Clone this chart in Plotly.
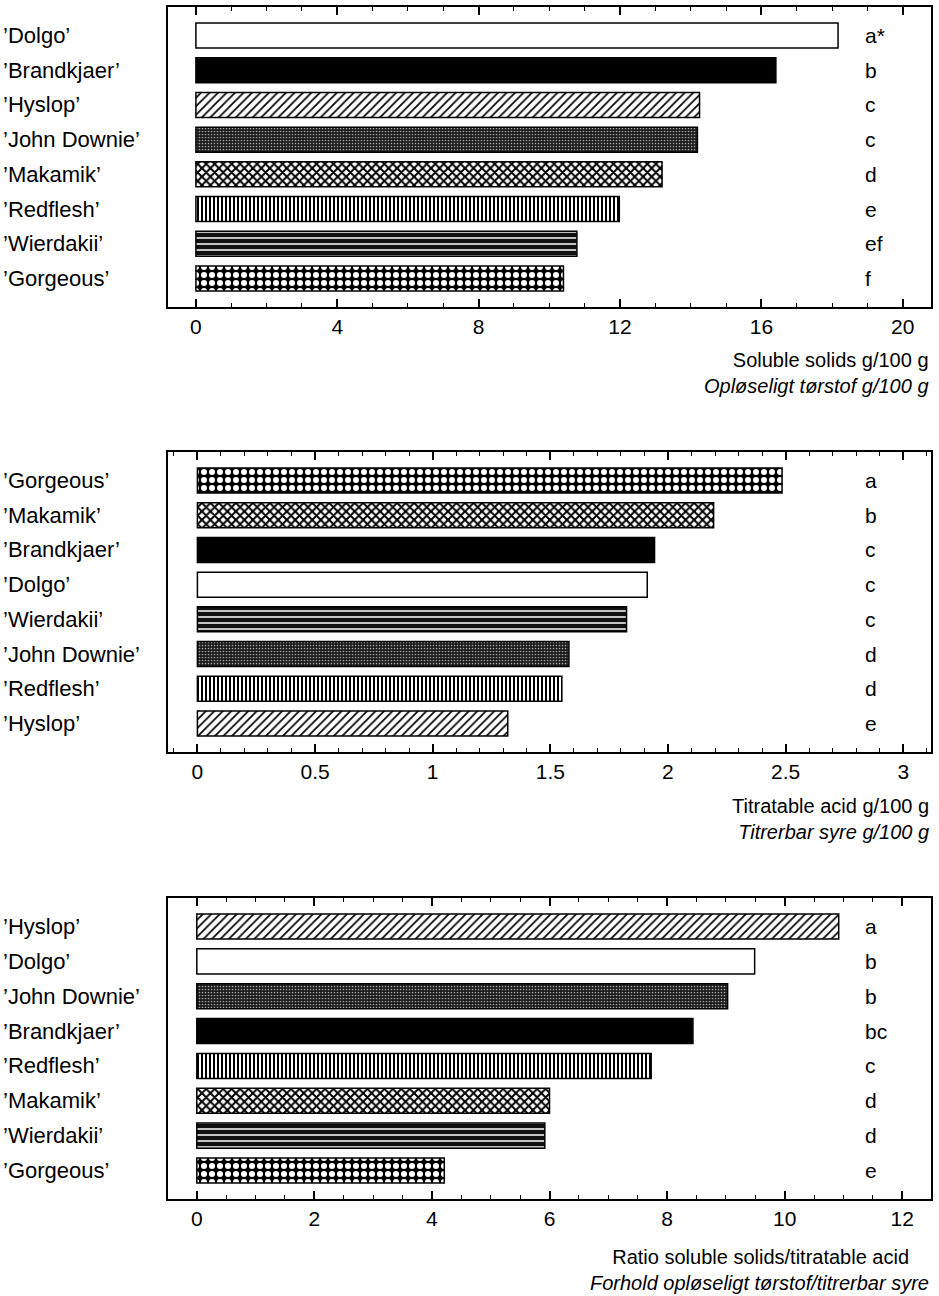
import plotly.graph_objects as go

# ---------------- data ----------------
ss_cultivars = ["Dolgo", "Brandkjaer", "Hyslop", "John Downie", "Makamik", "Redflesh", "Wierdakii", "Gorgeous"]
ss_values = [18.17, 16.41, 14.25, 14.19, 13.19, 11.98, 10.78, 10.40]
ss_letters = ["a*", "b", "c", "c", "d", "e", "ef", "f"]

ta_cultivars = ["Gorgeous", "Makamik", "Brandkjaer", "Dolgo", "Wierdakii", "John Downie", "Redflesh", "Hyslop"]
ta_values = [2.485, 2.194, 1.943, 1.912, 1.824, 1.579, 1.549, 1.319]
ta_letters = ["a", "b", "c", "c", "c", "d", "d", "e"]

ratio_cultivars = ["Hyslop", "Dolgo", "John Downie", "Brandkjaer", "Redflesh", "Makamik", "Wierdakii", "Gorgeous"]
ratio_values = [10.92, 9.49, 9.03, 8.44, 7.73, 6.00, 5.92, 4.21]
ratio_letters = ["a", "b", "b", "bc", "c", "d", "d", "e"]

ss_ticks = [0, 4, 8, 12, 16, 20]
ta_ticks = [0, 0.5, 1, 1.5, 2, 2.5, 3]
ratio_ticks = [0, 2, 4, 6, 8, 10, 12]

titles = [
    ("Soluble solids g/100 g", "Opløseligt tørstof g/100 g"),
    ("Titratable acid g/100 g", "Titrerbar syre g/100 g"),
    ("Ratio soluble solids/titratable acid", "Forhold opløseligt tørstof/titrerbar syre"),
]

# ---------------- styles ----------------
W, H = 939, 1296
FONT = "Liberation Sans, Arial, Helvetica, sans-serif"

style = {
    "Dolgo":       dict(shape="",  bg="white",   fg="black",   size=8, sol=0.3),
    "Brandkjaer":  dict(shape="",  bg="black",   fg="black",   size=8, sol=0.3),
    "Hyslop":      dict(shape="/", bg="white",   fg="black",   size=6, sol=0.28),
    "John Downie": dict(shape=".", bg="#1a1a1a", fg="#a0a0a0", size=3, sol=0.25),
    "Makamik":     dict(shape="x", bg="white",   fg="black",   size=6, sol=0.55),
    "Redflesh":    dict(shape="|", bg="white",   fg="black",   size=4, sol=0.5),
    "Wierdakii":   dict(shape="-", bg="#111111", fg="white",   size=6, sol=0.25),
    "Gorgeous":    dict(shape=".", bg="black",   fg="white",   size=8, sol=0.45),
}


def label(c):
    return "\u2019" + c + "\u2019"


def px_x(p):
    return p / W


def px_y(p):
    return 1 - p / H


panels = [
    dict(cult=ss_cultivars, vals=ss_values, letters=ss_letters, ticks=ss_ticks,
         xr=[-0.79, 20.80], minor=1, top=7, bot=307, title_y=373,
         tx=931, tanchor="right", talign="right", indent=""),
    dict(cult=ta_cultivars, vals=ta_values, letters=ta_letters, ticks=ta_ticks,
         xr=[-0.125, 3.118], minor=0.1, top=452, bot=752, title_y=819,
         tx=931, tanchor="right", talign="right", indent=""),
    dict(cult=ratio_cultivars, vals=ratio_values, letters=ratio_letters, ticks=ratio_ticks,
         xr=[-0.49, 12.49], minor=0.5, top=898, bot=1199, title_y=1270,
         tx=931, tanchor="right", talign="left", indent="&nbsp;&nbsp;&nbsp;&nbsp;"),
]

fig = go.Figure()
annotations = []
layout_axes = {}

for i, p in enumerate(panels):
    n = i + 1
    xa = "x" if n == 1 else f"x{n}"
    ya = "y" if n == 1 else f"y{n}"
    cats = [label(c) for c in p["cult"]]
    for c, cat, v in zip(p["cult"], cats, p["vals"]):
        s = style[c]
        marker = dict(color=s["bg"], line=dict(color="black", width=1.5))
        if s["shape"]:
            marker["pattern"] = dict(shape=s["shape"], bgcolor=s["bg"], fgcolor=s["fg"],
                                     size=s["size"], solidity=s["sol"], fillmode="replace")
        fig.add_trace(go.Bar(
            x=[v], y=[cat], orientation="h", xaxis=xa, yaxis=ya,
            width=0.72, marker=marker,
            showlegend=False, hoverinfo="skip",
        ))
    ydom = [px_y(p["bot"]), px_y(p["top"])]
    xdom = [px_x(168), px_x(931)]
    xkey = "xaxis" if n == 1 else f"xaxis{n}"
    ykey = "yaxis" if n == 1 else f"yaxis{n}"
    layout_axes[xkey] = dict(
        domain=xdom, anchor=ya, range=p["xr"],
        tickmode="array", tickvals=p["ticks"],
        ticktext=[("%g" % t) for t in p["ticks"]],
        ticks="inside", ticklen=8, tickwidth=1.5, tickcolor="black",
        minor=dict(dtick=p["minor"], tick0=0, ticks="inside", ticklen=4,
                   tickwidth=1, tickcolor="black"),
        showline=True, linecolor="black", linewidth=1.5, mirror="ticks",
        showgrid=False, zeroline=False,
        tickfont=dict(family=FONT, size=21, color="black"),
        ticklabelstandoff=0,
    )
    layout_axes[ykey] = dict(
        domain=ydom, anchor=xa, type="category",
        categoryorder="array", categoryarray=cats,
        range=[len(cats) - 1 + 0.82, -0.82],
        showticklabels=False, ticks="",
        showline=True, linecolor="black", linewidth=1.5, mirror=True,
        showgrid=False, zeroline=False,
    )
    for c, letter in zip(cats, p["letters"]):
        annotations.append(dict(
            xref="paper", yref=ya, x=px_x(1), y=c, text=c, showarrow=False,
            xanchor="left", yanchor="middle",
            font=dict(family=FONT, size=22, color="black"),
        ))
        annotations.append(dict(
            xref="paper", yref=ya, x=px_x(863), y=c, text=letter, showarrow=False,
            xanchor="left", yanchor="middle",
            font=dict(family=FONT, size=21, color="black"),
        ))
    t1, t2 = titles[i]
    annotations.append(dict(
        xref="paper", yref="paper", x=px_x(p["tx"]), y=px_y(p["title_y"]),
        text=p["indent"] + t1 + "<br><i>" + t2 + "</i>",
        showarrow=False, xanchor=p["tanchor"], yanchor="middle", align=p["talign"],
        font=dict(family=FONT, size=20, color="black"),
    ))

fig.update_layout(
    width=W, height=H, autosize=False,
    margin=dict(l=0, r=0, t=0, b=0),
    paper_bgcolor="white", plot_bgcolor="white",
    barmode="overlay",
    annotations=annotations,
    **layout_axes,
)

fig.write_html("out.html")
